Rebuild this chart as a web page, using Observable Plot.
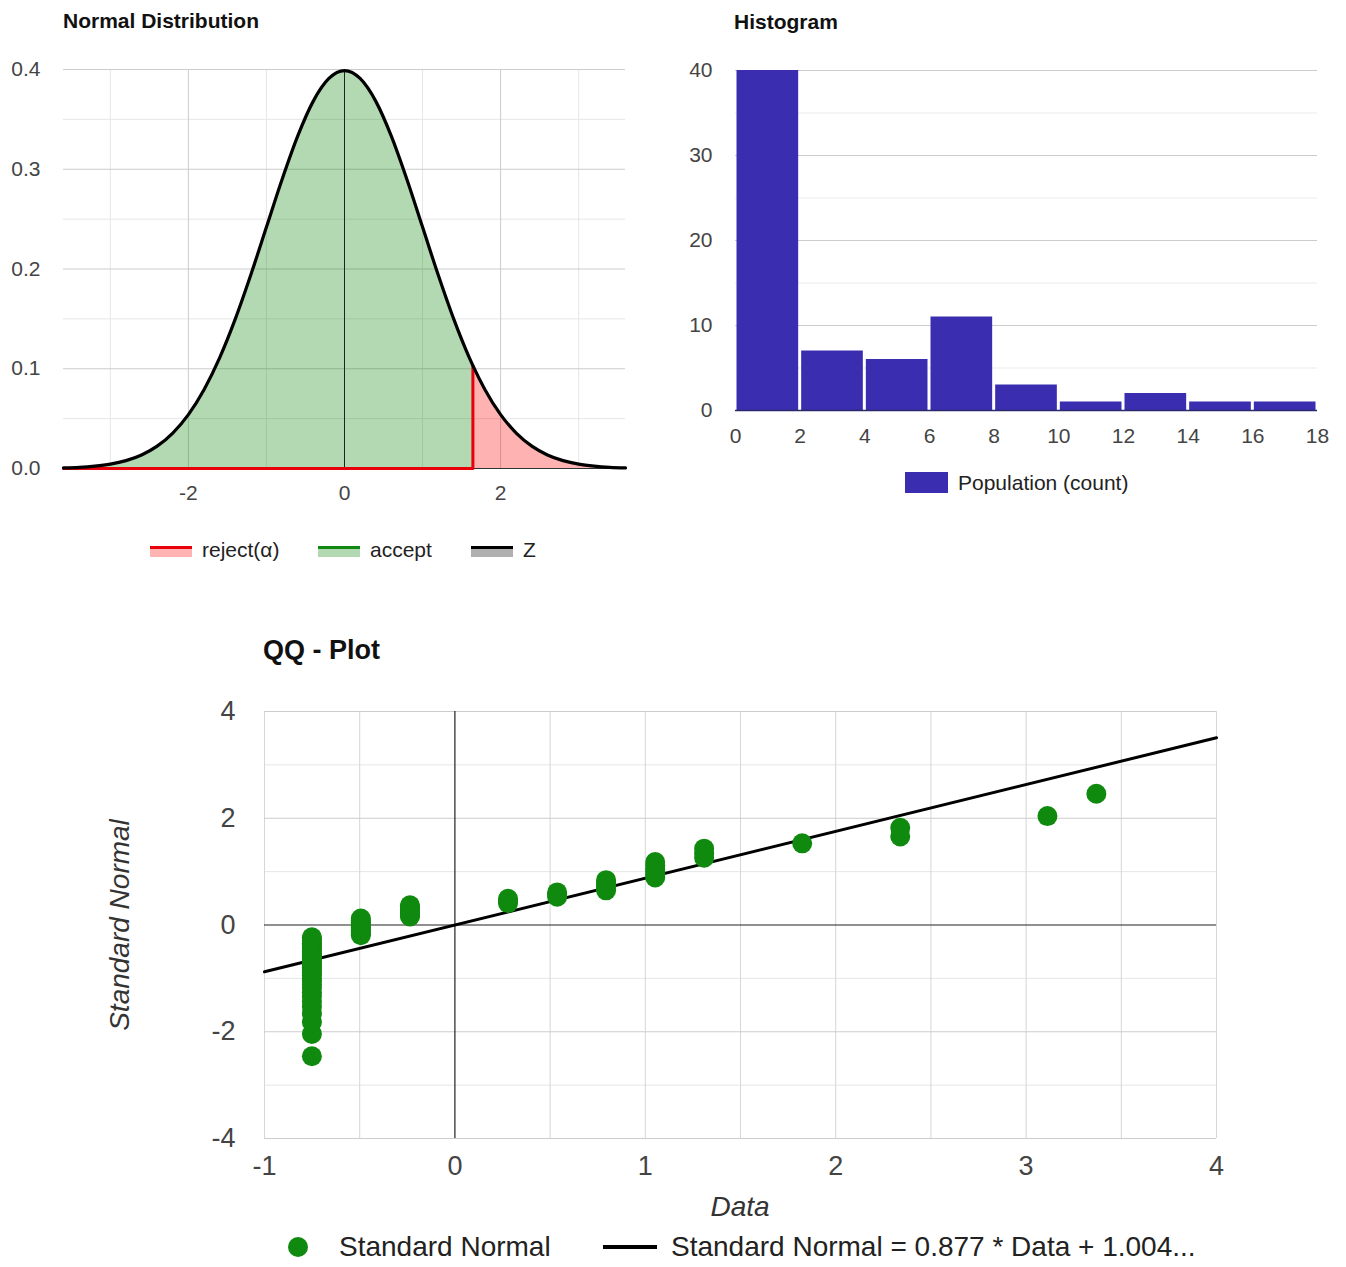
<!DOCTYPE html>
<html><head><meta charset="utf-8">
<script src="https://cdn.jsdelivr.net/npm/d3@7"></script>
<script src="https://cdn.jsdelivr.net/npm/@observablehq/plot@0.6"></script>
<style>
body{margin:0;width:1346px;height:1267px;position:relative;background:#fff;font-family:"Liberation Sans",Arial,sans-serif;overflow:hidden}
.abs{position:absolute;white-space:nowrap}
.t1{font-weight:bold;font-size:21px;line-height:24px;color:#111}
.leg{font-size:21px;line-height:24px;color:#222}
.leg2{font-size:28px;line-height:32px;color:#222}
</style></head><body>
<script>
// ---------- Normal distribution ----------
const zValues = [-3.6,-3.4,-3.2,-3.0,-2.8,-2.6,-2.4,-2.2,-2.0,-1.8,-1.6,-1.4,-1.2,-1.0,-0.8,-0.6,-0.4,-0.2,0,0.2,0.4,0.6,0.8,1.0,1.2,1.4,1.6,1.645,1.8,2.0,2.2,2.4,2.6,2.8,3.0,3.2,3.4,3.6];
const zDensity = [0.0006,0.0012,0.0024,0.0044,0.0079,0.0136,0.0224,0.0355,0.0540,0.0790,0.1109,0.1497,0.1942,0.2420,0.2897,0.3332,0.3683,0.3910,0.3989,0.3910,0.3683,0.3332,0.2897,0.2420,0.1942,0.1497,0.1109,0.1031,0.0790,0.0540,0.0355,0.0224,0.0136,0.0079,0.0044,0.0024,0.0012,0.0006];
const criticalZ = 1.645;
const normXTicks = [-2,0,2];
const normYTicks = [0,0.1,0.2,0.3,0.4];
const normXMinor = [-3,-1,1,3];
const normYMinor = [0.05,0.15,0.25,0.35];
const normLegend = ["reject(α)","accept","Z"];

// ---------- Histogram ----------
const binStart = [0,2,4,6,8,10,12,14,16];
const binEnd   = [2,4,6,8,10,12,14,16,18];
const binCount = [40,7,6,11,3,1,2,1,1];
const histXTicks = [0,2,4,6,8,10,12,14,16,18];
const histYTicks = [0,10,20,30,40];
const histYMinor = [5,15,25,35];

// ---------- QQ plot ----------
const qqData = [
 -0.751,-0.751,-0.751,-0.751,-0.751,-0.751,-0.751,-0.751,-0.751,-0.751,
 -0.751,-0.751,-0.751,-0.751,-0.751,-0.751,-0.751,-0.751,-0.751,-0.751,
 -0.751,-0.751,-0.751,-0.751,-0.751,-0.751,-0.751,-0.751,-0.751,-0.751,
 -0.494,-0.494,-0.494,-0.494,-0.494,-0.494,-0.494,-0.494,-0.494,-0.494,
 -0.236,-0.236,-0.236,-0.236,-0.236,-0.236,-0.236,
 0.279,0.279,0.279,
 0.537,0.537,0.537,
 0.794,0.794,0.794,0.794,0.794,
 1.052,1.052,1.052,1.052,1.052,1.052,
 1.309,1.309,1.309,
 1.824,
 2.339,2.339,
 3.112,
 3.369];
const qqNormal = [
 -2.46,-2.04,-1.82,-1.66,-1.53,-1.43,-1.34,-1.26,-1.18,-1.12,
 -1.05,-1.00,-0.94,-0.89,-0.84,-0.79,-0.74,-0.70,-0.65,-0.61,
 -0.57,-0.53,-0.49,-0.45,-0.41,-0.37,-0.34,-0.30,-0.26,-0.23,
 -0.19,-0.16,-0.12,-0.09,-0.05,-0.02,0.02,0.05,0.09,0.12,
 0.16,0.19,0.23,0.26,0.30,0.34,0.37,
 0.41,0.45,0.49,
 0.53,0.57,0.61,
 0.65,0.70,0.74,0.79,0.84,
 0.89,0.94,1.00,1.05,1.12,1.18,
 1.26,1.34,1.43,
 1.53,
 1.66,1.82,
 2.04,
 2.46];
const trendX = [-1,4];
const trendY = [-0.877,3.508];
const qqXTicks = [-1,0,1,2,3,4];
const qqYTicks = [-4,-2,0,2,4];
const qqXGrid = [-1,-0.5,0.5,1,1.5,2,2.5,3,3.5,4];
const qqYMajor = [-4,-2,2,4];
const qqYMinor = [-3,-1,1,3];

const FONT = '"Liberation Sans", Arial, sans-serif';
const plain = d => String(d);
function place(el, left, top){ const d=document.createElement("div"); d.className="abs"; d.style.left=left+"px"; d.style.top=top+"px"; d.appendChild(el); document.body.appendChild(d); return d; }
function html(cls, left, top, text, extra){ const d=document.createElement("div"); d.className="abs "+cls; d.style.left=left+"px"; d.style.top=top+"px"; d.textContent=text; if(extra) Object.assign(d.style, extra); document.body.appendChild(d); return d; }
function box(left, top, w, h, style){ const d=document.createElement("div"); d.className="abs"; Object.assign(d.style,{left:left+"px",top:top+"px",width:w+"px",height:h+"px"}, style||{}); document.body.appendChild(d); return d; }

// ---- Chart 1
const curve = zValues.map((z,i)=>({z, d:zDensity[i]}));
const accept = curve.filter(p=>p.z<=criticalZ);
const reject = curve.filter(p=>p.z>=criticalZ);
const critD = zDensity[zValues.indexOf(criticalZ)];
const redLine = [{z:zValues[0],d:0},{z:criticalZ,d:0},{z:criticalZ,d:critD}];

const p1 = Plot.plot({
  width:650, height:520, marginLeft:63, marginRight:25, marginTop:69, marginBottom:52,
  style:{fontFamily:FONT, fontSize:"21px", color:"#444", background:"transparent", overflow:"visible"},
  x:{domain:[zValues[0], zValues[zValues.length-1]]},
  y:{domain:[0,0.4]},
  marks:[
    Plot.ruleX(normXMinor,{stroke:"#e6e6e6"}),
    Plot.ruleY(normYMinor,{stroke:"#e6e6e6"}),
    Plot.ruleX(normXTicks.filter(v=>v!==0),{stroke:"#cccccc"}),
    Plot.ruleY(normYTicks.filter(v=>v!==0),{stroke:"#cccccc"}),
    Plot.areaY(accept,{x:"z", y:"d", fill:"#008000", fillOpacity:0.3, curve:"monotone-x"}),
    Plot.areaY(reject,{x:"z", y:"d", fill:"#ff0000", fillOpacity:0.3, curve:"monotone-x"}),
    Plot.ruleX([0],{stroke:"#222", strokeWidth:1}),
    Plot.ruleY([0],{stroke:"#333", strokeWidth:1.2}),
    Plot.line(redLine,{x:"z", y:"d", stroke:"#e8000b", strokeWidth:3}),
    Plot.line(curve,{x:"z", y:"d", stroke:"#000", strokeWidth:3.2, curve:"monotone-x"}),
    Plot.axisX(normXTicks,{tickSize:0, tickPadding:17, label:null, tickFormat:plain}),
    Plot.axisY(normYTicks,{tickSize:0, tickPadding:23, label:null, tickFormat:d=>d.toFixed(1)})
  ]
});
place(p1,0,0);
html("t1",63,9,"Normal Distribution");
// legend
const legCols = [["#e8000b","#ffb3b3"],["#118811","#b3d9b3"],["#000","#b0b0b0"]];
const legX = [150,318,471];
normLegend.forEach((t,i)=>{
  box(legX[i],546,42,3,{background:legCols[i][0]});
  box(legX[i],549,42,8,{background:legCols[i][1]});
  html("leg",legX[i]+52,538,t);
});

// ---- Chart 2
const hist = binCount.map((c,i)=>({x1:binStart[i], x2:binEnd[i], c}));
const p2 = Plot.plot({
  width:666, height:460, marginLeft:55, marginRight:29, marginTop:70, marginBottom:50,
  style:{fontFamily:FONT, fontSize:"21px", color:"#444", background:"transparent", overflow:"visible"},
  x:{domain:[histXTicks[0], histXTicks[histXTicks.length-1]]},
  y:{domain:[0,40]},
  marks:[
    Plot.ruleY(histYMinor,{stroke:"#ebebeb"}),
    Plot.ruleY(histYTicks.filter(v=>v!==0),{stroke:"#cccccc"}),
    Plot.rectY(hist,{x1:"x1", x2:"x2", y:"c", fill:"#3a2db0", insetLeft:1.5, insetRight:1.5}),
    Plot.ruleY([0],{stroke:"#2a2a6a", strokeWidth:1.5}),
    Plot.axisX(histXTicks,{tickSize:0, tickPadding:18, label:null, tickFormat:plain}),
    Plot.axisY(histYTicks,{tickSize:0, tickPadding:23, label:null, tickFormat:plain})
  ]
});
place(p2,680,0);
html("t1",734,10,"Histogram");
box(905,472,43,21,{background:"#3a2db0"});
html("leg",958,471,"Population (count)");

// ---- Chart 3
const qq = qqData.map((x,i)=>({x, y:qqNormal[i]}));
const trend = trendX.map((x,i)=>({x, y:trendY[i]}));
const p3 = Plot.plot({
  width:1346, height:620, marginLeft:264, marginRight:130, marginTop:111, marginBottom:82,
  style:{fontFamily:FONT, fontSize:"27px", color:"#444", background:"transparent", overflow:"visible"},
  x:{domain:[-1,4]},
  y:{domain:[-4,4]},
  marks:[
    Plot.ruleY(qqYMinor,{stroke:"#e6e6e6"}),
    Plot.ruleX(qqXGrid,{stroke:"#d6d6d6"}),
    Plot.ruleY(qqYMajor,{stroke:"#cccccc"}),
    Plot.ruleX([0],{stroke:"#222", strokeWidth:1.2}),
    Plot.ruleY([0],{stroke:"#222", strokeWidth:1.2}),
    Plot.line(trend,{x:"x", y:"y", stroke:"#000", strokeWidth:3}),
    Plot.dot(qq,{x:"x", y:"y", r:10, fill:"#0f8a0f"}),
    Plot.axisX(qqXTicks,{tickSize:0, tickPadding:17, label:null, tickFormat:plain}),
    Plot.axisY(qqYTicks,{tickSize:0, tickPadding:29, label:null, tickFormat:plain})
  ]
});
place(p3,0,600);
html("t1",263,634,"QQ - Plot",{fontSize:"27px",lineHeight:"32px"});
html("leg2",640,1191,"Data",{width:"200px",textAlign:"center",fontStyle:"italic",color:"#333"});
html("leg2",120,925,"Standard Normal",{fontStyle:"italic",color:"#333",transform:"translate(-50%,-50%) rotate(-90deg)"});
box(288,1237,20,20,{background:"#0f8a0f",borderRadius:"50%"});
html("leg2",339,1231,"Standard Normal");
box(603,1245,54,4,{background:"#000"});
html("leg2",671,1231,"Standard Normal = 0.877 * Data + 1.004...");
</script>
</body></html>
